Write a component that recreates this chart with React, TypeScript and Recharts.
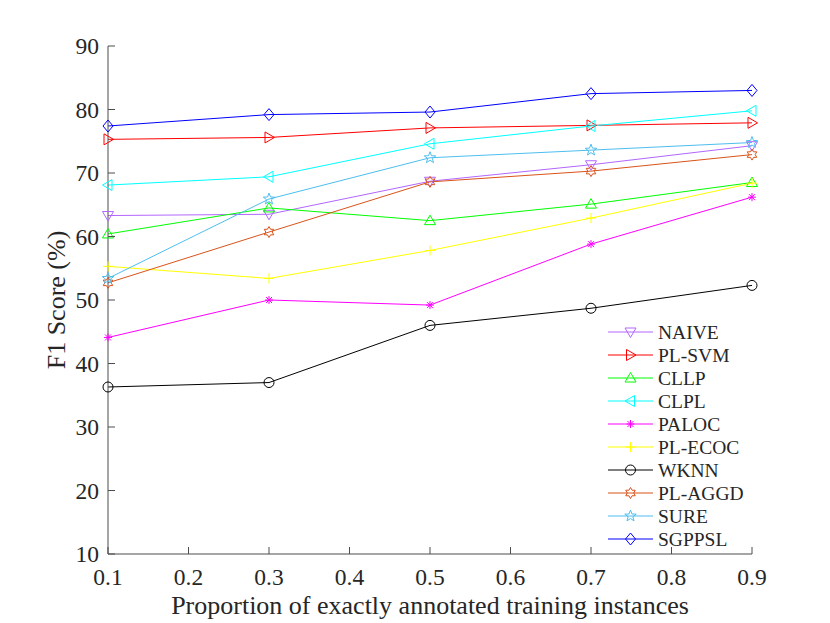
import React from 'react';
import { LineChart, Line, XAxis, YAxis, Legend } from 'recharts';

const X_VALUES = [0.1, 0.3, 0.5, 0.7, 0.9];
const X_TICKS = [0.1, 0.2, 0.3, 0.4, 0.5, 0.6, 0.7, 0.8, 0.9];
const Y_TICKS = [10, 20, 30, 40, 50, 60, 70, 80, 90];

const NAIVE = [63.3, 63.5, 68.7, 71.3, 74.3];
const PL_SVM = [75.3, 75.6, 77.1, 77.5, 77.9];
const CLLP = [60.4, 64.5, 62.5, 65.1, 68.5];
const CLPL = [68.1, 69.4, 74.6, 77.4, 79.8];
const PALOC = [44.1, 50.0, 49.2, 58.8, 66.2];
const PL_ECOC = [55.3, 53.4, 57.8, 62.9, 68.4];
const WKNN = [36.3, 37.0, 46.0, 48.7, 52.3];
const PL_AGGD = [52.7, 60.7, 68.6, 70.3, 72.9];
const SURE = [53.4, 65.9, 72.4, 73.6, 74.8];
const SGPPSL = [77.4, 79.2, 79.6, 82.5, 83.0];

type Shape = 'down' | 'right' | 'up' | 'left' | 'asterisk' | 'plus' | 'circle' | 'hexagram' | 'pentagram' | 'diamond';

const SERIES: { key: string; name: string; values: number[]; color: string; shape: Shape }[] = [
  { key: 'naive', name: 'NAIVE', values: NAIVE, color: '#B266FF', shape: 'down' },
  { key: 'plsvm', name: 'PL-SVM', values: PL_SVM, color: '#FF0000', shape: 'right' },
  { key: 'cllp', name: 'CLLP', values: CLLP, color: '#00FF00', shape: 'up' },
  { key: 'clpl', name: 'CLPL', values: CLPL, color: '#00FFFF', shape: 'left' },
  { key: 'paloc', name: 'PALOC', values: PALOC, color: '#FF00FF', shape: 'asterisk' },
  { key: 'plecoc', name: 'PL-ECOC', values: PL_ECOC, color: '#FFFF00', shape: 'plus' },
  { key: 'wknn', name: 'WKNN', values: WKNN, color: '#000000', shape: 'circle' },
  { key: 'plaggd', name: 'PL-AGGD', values: PL_AGGD, color: '#D95319', shape: 'hexagram' },
  { key: 'sure', name: 'SURE', values: SURE, color: '#4DBEEE', shape: 'pentagram' },
  { key: 'sgppsl', name: 'SGPPSL', values: SGPPSL, color: '#0000FF', shape: 'diamond' },
];

const rows = X_VALUES.map((x, i) => {
  const r: Record<string, number> = { x };
  SERIES.forEach((s) => {
    r[s.key] = s.values[i];
  });
  return r;
});

const FONT = '"Liberation Serif", "Times New Roman", serif';
const TEXT = '#262626';
const AXIS = '#4d4d4d';
const TICK_LEN = 7;

function starPoints(cx: number, cy: number, n: number, ro: number, ri: number) {
  const pts: string[] = [];
  for (let i = 0; i < n * 2; i++) {
    const r = i % 2 === 0 ? ro : ri;
    const a = -Math.PI / 2 + (i * Math.PI) / n;
    pts.push(`${cx + r * Math.cos(a)},${cy + r * Math.sin(a)}`);
  }
  return pts.join(' ');
}

function Marker({ cx, cy, shape, color }: { cx: number; cy: number; shape: Shape; color: string }) {
  const p = { fill: 'none', stroke: color, strokeWidth: 1 };
  switch (shape) {
    case 'down':
      return <polygon {...p} points={`${cx - 5.5},${cy - 4} ${cx + 5.5},${cy - 4} ${cx},${cy + 5.5}`} />;
    case 'up':
      return <polygon {...p} points={`${cx - 5.5},${cy + 4} ${cx + 5.5},${cy + 4} ${cx},${cy - 5.5}`} />;
    case 'right':
      return <polygon {...p} points={`${cx - 4},${cy - 5.5} ${cx - 4},${cy + 5.5} ${cx + 5.5},${cy}`} />;
    case 'left':
      return <polygon {...p} points={`${cx + 4},${cy - 5.5} ${cx + 4},${cy + 5.5} ${cx - 5.5},${cy}`} />;
    case 'asterisk':
      return (
        <g {...p}>
          <line x1={cx - 4} y1={cy} x2={cx + 4} y2={cy} />
          <line x1={cx} y1={cy - 4} x2={cx} y2={cy + 4} />
          <line x1={cx - 3} y1={cy - 3} x2={cx + 3} y2={cy + 3} />
          <line x1={cx - 3} y1={cy + 3} x2={cx + 3} y2={cy - 3} />
        </g>
      );
    case 'plus':
      return (
        <g {...p}>
          <line x1={cx - 5} y1={cy} x2={cx + 5} y2={cy} />
          <line x1={cx} y1={cy - 5} x2={cx} y2={cy + 5} />
        </g>
      );
    case 'circle':
      return <circle {...p} cx={cx} cy={cy} r={5} />;
    case 'hexagram':
      return <polygon {...p} points={starPoints(cx, cy, 6, 5.5, 3.2)} />;
    case 'pentagram':
      return <polygon {...p} points={starPoints(cx, cy, 5, 6, 2.5)} />;
    case 'diamond':
    default:
      return <polygon {...p} points={`${cx},${cy - 6} ${cx + 5},${cy} ${cx},${cy + 6} ${cx - 5},${cy}`} />;
  }
}

const fmtX = (v: number) => v.toFixed(1);

function BottomTick(props: any) {
  const { x, y, payload } = props;
  return (
    <g>
      <line x1={x} y1={y} x2={x} y2={y - TICK_LEN} stroke={AXIS} strokeWidth={1} />
      <text x={x} y={y + 31} textAnchor="middle" fontFamily={FONT} fontSize={23.5} fill={TEXT}>
        {fmtX(payload.value)}
      </text>
    </g>
  );
}

function TopTick(props: any) {
  const { x, y } = props;
  return <line x1={x} y1={y} x2={x} y2={y + TICK_LEN} stroke={AXIS} strokeWidth={1} />;
}

function LeftTick(props: any) {
  const { x, y, payload } = props;
  return (
    <g>
      <line x1={x} y1={y} x2={x + TICK_LEN} y2={y} stroke={AXIS} strokeWidth={1} />
      <text x={x - 9} y={y} textAnchor="end" dominantBaseline="central" fontFamily={FONT} fontSize={23.5} fill={TEXT}>
        {payload.value}
      </text>
    </g>
  );
}

function RightTick(props: any) {
  const { x, y } = props;
  return <line x1={x} y1={y} x2={x - TICK_LEN} y2={y} stroke={AXIS} strokeWidth={1} />;
}

function LegendContent() {
  const rowH = 23;
  return (
    <svg width={170} height={SERIES.length * rowH + 4} style={{ display: 'block' }}>
      {SERIES.map((s, i) => {
        const cy = 12 + i * rowH;
        return (
          <g key={s.key}>
            <line x1={8} y1={cy} x2={53} y2={cy} stroke={s.color} strokeWidth={1} />
            <Marker cx={30.5} cy={cy} shape={s.shape} color={s.color} />
            <text x={58} y={cy} dominantBaseline="central" fontFamily={FONT} fontSize={19.5} fill={TEXT}>
              {s.name}
            </text>
          </g>
        );
      })}
    </svg>
  );
}

export default function App() {
  return (
    <div style={{ position: 'absolute', left: 0, top: 0, width: 830, height: 623, background: '#fff' }}>
      <LineChart width={830} height={623} data={rows} margin={{ top: 46, right: 78, bottom: 0, left: 0 }}>
        <XAxis
          dataKey="x"
          type="number"
          domain={[0.1, 0.9]}
          ticks={X_TICKS}
          interval={0}
          height={69}
          tickSize={0}
          tickMargin={0}
          tickLine={false}
          axisLine={{ stroke: AXIS, strokeWidth: 1 }}
          tick={<BottomTick />}
        />
        <XAxis
          xAxisId="top"
          orientation="top"
          dataKey="x"
          type="number"
          domain={[0.1, 0.9]}
          ticks={X_TICKS}
          interval={0}
          height={0}
          tickSize={0}
          tickMargin={0}
          tickLine={false}
          axisLine={{ stroke: AXIS, strokeWidth: 1 }}
          tick={<TopTick />}
        />
        <YAxis
          type="number"
          domain={[10, 90]}
          ticks={Y_TICKS}
          interval={0}
          width={108}
          tickSize={0}
          tickMargin={0}
          tickLine={false}
          axisLine={{ stroke: AXIS, strokeWidth: 1 }}
          tick={<LeftTick />}
          label={{
            value: 'F1 Score (%)',
            angle: -90,
            position: 'center',
            content: () => (
              <text
                x={56}
                y={300}
                transform="rotate(-90 56 300)"
                textAnchor="middle"
                dominantBaseline="central"
                fontFamily={FONT}
                fontSize={26}
                fill={TEXT}
              >
                F1 Score (%)
              </text>
            ),
          }}
        />
        <YAxis
          yAxisId="right"
          orientation="right"
          type="number"
          domain={[10, 90]}
          ticks={Y_TICKS}
          interval={0}
          width={0}
          tickSize={0}
          tickMargin={0}
          tickLine={false}
          axisLine={{ stroke: AXIS, strokeWidth: 1 }}
          tick={<RightTick />}
        />
        {SERIES.map((s) => (
          <Line
            key={s.key}
            dataKey={s.key}
            name={s.name}
            stroke={s.color}
            strokeWidth={1}
            type="linear"
            isAnimationActive={false}
            activeDot={false}
            dot={(props: any) => (
              <Marker key={`${s.key}-${props.index}`} cx={props.cx} cy={props.cy} shape={s.shape} color={s.color} />
            )}
          />
        ))}
        <Legend
          layout="vertical"
          align="center"
          verticalAlign="middle"
          content={<LegendContent />}
          wrapperStyle={{ position: 'absolute', left: 600, top: 320, width: 170, height: 236 }}
        />
      </LineChart>
      <div
        style={{
          position: 'absolute',
          left: 108,
          width: 644,
          top: 591,
          textAlign: 'center',
          fontFamily: FONT,
          fontSize: 26,
          color: TEXT,
          lineHeight: '30px',
          whiteSpace: 'nowrap',
        }}
      >
        Proportion of exactly annotated training instances
      </div>
    </div>
  );
}
